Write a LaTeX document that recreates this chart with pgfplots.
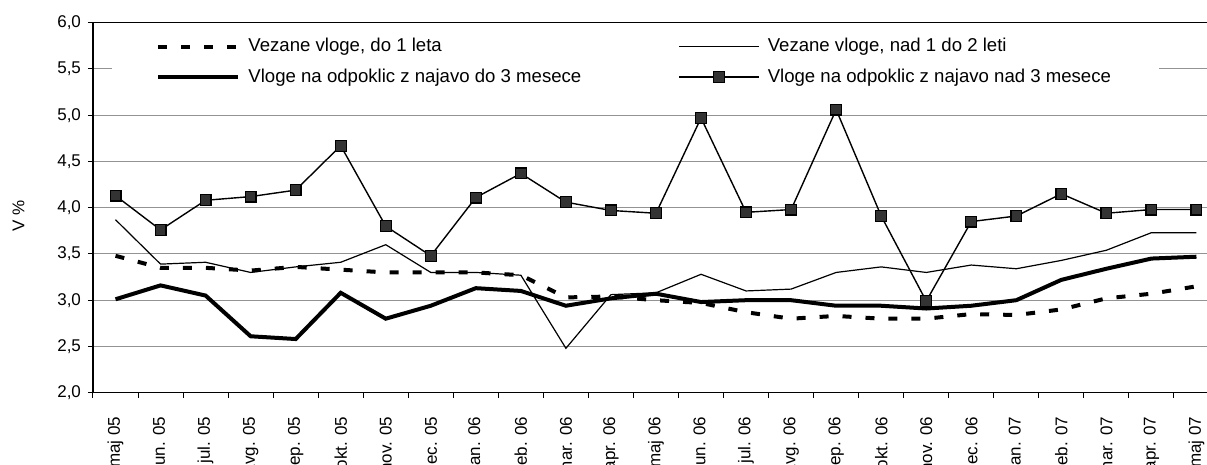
\documentclass[border=0pt]{standalone}
\usepackage{fontspec}
\setmainfont{Liberation Sans}
\usepackage{pgfplots}
\pgfplotsset{compat=1.18}

\begin{document}
\begin{tikzpicture}
\begin{axis}[
    at={(0,0)}, anchor=south west,
    scale only axis,
    width=563pt, height=185pt,
    xmin=-0.5, xmax=24.5,
    ymin=2, ymax=6,
    ytick={2,2.5,...,6},
    xtick={0,...,24},
    xticklabels={maj 05,jun. 05,jul. 05,avg. 05,sep. 05,okt. 05,nov. 05,dec. 05,
        jan. 06,feb. 06,mar. 06,apr. 06,maj 06,jun. 06,jul. 06,avg. 06,sep. 06,
        okt. 06,nov. 06,dec. 06,jan. 07,feb. 07,mar. 07,apr. 07,maj 07},
    minor xtick={-0.5,0.5,...,24.5},
    xtick pos=lower, ytick pos=left,
    tick align=outside,
    major tick length=2.5pt, minor tick length=2.5pt,
    major x tick style={draw=none},
    tick style={black, line width=0.5pt},
    ymajorgrids,
    grid style={gray!85, line width=0.5pt},
    axis line style={black, line width=0.6pt},
    ticklabel style={font=\fontsize{8.5}{10}\selectfont},
    /pgf/number format/assume math mode=true,
    yticklabel style={/pgf/number format/.cd, fixed, fixed zerofill, precision=1, use comma},
    xticklabel style={rotate=90, anchor=east, xshift=-6pt},
    ylabel={V \%},
    ylabel style={font=\fontsize{8.5}{10}\selectfont, at={(axis description cs:-0.0662,0.478)}, anchor=center},
    legend columns=2,
    legend cell align=left,
    legend style={at={(0.0169,0.894)}, anchor=west, draw=none, fill=white,
        inner xsep=22pt, inner ysep=2pt, row sep=3pt,
        font=\fontsize{9.3}{11}\selectfont},
    /tikz/every even column/.append style={column sep=46.5pt},
    /tikz/every odd column/.append style={column sep=2pt},
    legend image code/.code={\draw[mark repeat=2,mark phase=2,#1] plot coordinates {(0pt,0pt) (20pt,0pt) (40pt,0pt)};},
    clip=false,
]
\addplot[black, line width=2pt, dash pattern=on 4.5pt off 7pt] coordinates {
(0,3.48) (1,3.35) (2,3.35) (3,3.32) (4,3.36) (5,3.33) (6,3.30) (7,3.30) (8,3.30) (9,3.27)
(10,3.03) (11,3.04) (12,3.00) (13,2.97) (14,2.87) (15,2.80) (16,2.83) (17,2.80) (18,2.80)
(19,2.85) (20,2.84) (21,2.90) (22,3.02) (23,3.07) (24,3.15)};
\addlegendentry{Vezane vloge, do 1 leta}
\addplot[black, line width=0.6pt] coordinates {
(0,3.87) (1,3.39) (2,3.41) (3,3.30) (4,3.36) (5,3.41) (6,3.60) (7,3.30) (8,3.30) (9,3.27)
(10,2.48) (11,3.06) (12,3.08) (13,3.28) (14,3.10) (15,3.12) (16,3.30) (17,3.36) (18,3.30)
(19,3.38) (20,3.34) (21,3.43) (22,3.54) (23,3.73) (24,3.73)};
\addlegendentry{Vezane vloge, nad 1 do 2 leti}
\addplot[black, line width=2pt] coordinates {
(0,3.01) (1,3.16) (2,3.05) (3,2.61) (4,2.58) (5,3.08) (6,2.80) (7,2.94) (8,3.13) (9,3.10)
(10,2.94) (11,3.02) (12,3.07) (13,2.98) (14,3.00) (15,3.00) (16,2.94) (17,2.94) (18,2.91)
(19,2.94) (20,3.00) (21,3.22) (22,3.34) (23,3.45) (24,3.47)};
\addlegendentry{Vloge na odpoklic z najavo do 3 mesece}
\addplot[black, line width=0.7pt, mark=square*, mark size=2.7pt,
    mark options={fill=black!80, draw=black, line width=0.6pt}] coordinates {
(0,4.13) (1,3.76) (2,4.08) (3,4.12) (4,4.19) (5,4.67) (6,3.80) (7,3.48) (8,4.11) (9,4.37)
(10,4.06) (11,3.97) (12,3.94) (13,4.97) (14,3.95) (15,3.98) (16,5.06) (17,3.91) (18,2.99)
(19,3.85) (20,3.91) (21,4.15) (22,3.94) (23,3.98) (24,3.98)};
\addlegendentry{Vloge na odpoklic z najavo nad 3 mesece}
\end{axis}
\pgfresetboundingbox
\useasboundingbox (-46.5pt,-36.15pt) rectangle (557pt,196.35pt);
\end{tikzpicture}
\end{document}
